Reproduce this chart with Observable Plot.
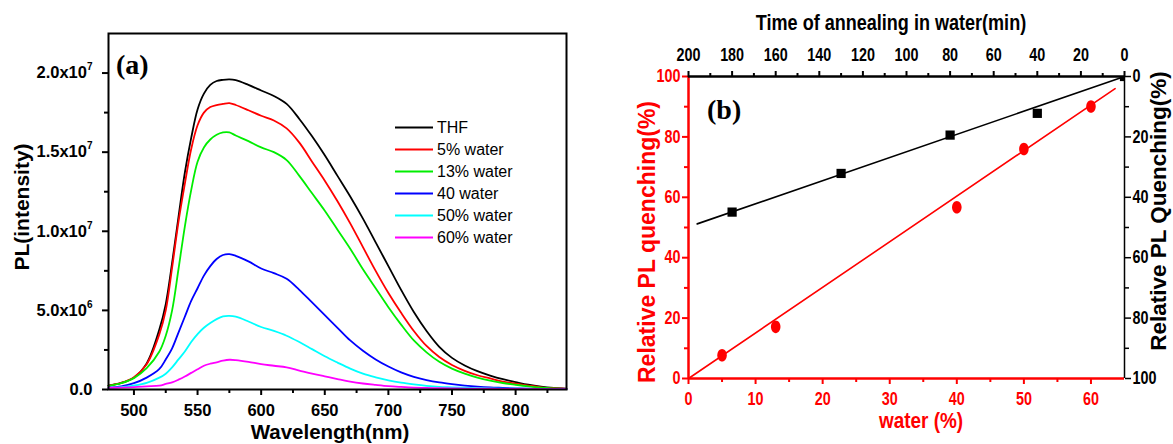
<!DOCTYPE html>
<html><head><meta charset="utf-8">
<script src="https://cdn.jsdelivr.net/npm/d3@7"></script>
<script src="https://cdn.jsdelivr.net/npm/@observablehq/plot@0.6"></script>
<style>
body{margin:0;background:#fff;}
#root{position:relative;width:1173px;height:444px;overflow:hidden;background:#fff;}
.layer{position:absolute;top:0;}
</style></head>
<body><div id="root">
<div id="pa" class="layer" style="left:0;width:580px;height:444px"></div>
<div id="pb1" class="layer" style="left:580px;width:593px;height:444px"></div>
<div id="pb2" class="layer" style="left:580px;width:593px;height:444px"></div>
<svg id="ov" class="layer" style="left:0" width="1173" height="444"></svg>
</div>
<script>
// ---------- Panel (a) data (intensity in units of 1e6) ----------
const wavelength = [480,490,500,510,520,525,530,535,540,545,550,555,560,565,570,575,580,590,600,610,620,630,640,650,660,670,680,690,700,710,720,730,740,750,760,770,780,790,800,810,820,830,840];
const thf      = [0.25,0.42,0.75,1.65,3.8,5.4,8.0,10.9,13.7,15.9,17.7,18.7,19.25,19.5,19.57,19.6,19.55,19.25,18.9,18.55,18.05,17.1,16.0,14.8,13.5,12.2,10.8,9.3,7.8,6.3,4.9,3.7,2.7,2.0,1.52,1.16,0.88,0.65,0.47,0.3,0.18,0.1,0.05];
const water5   = [0.25,0.42,0.78,1.6,3.5,5.0,7.7,10.6,13.0,15.2,16.7,17.5,17.85,17.98,18.05,18.1,17.98,17.65,17.3,17.0,16.5,15.6,14.4,13.2,11.9,10.5,9.0,7.5,6.1,4.85,3.7,2.75,2.05,1.55,1.18,0.9,0.7,0.5,0.37,0.25,0.14,0.08,0.04];
const water13  = [0.23,0.4,0.72,1.35,2.4,3.4,5.0,7.6,10.3,12.6,14.4,15.3,15.8,16.1,16.25,16.25,16.05,15.7,15.3,15.0,14.5,13.5,12.4,11.3,10.1,8.9,7.6,6.4,5.2,4.1,3.1,2.35,1.75,1.32,1.0,0.75,0.56,0.41,0.3,0.2,0.12,0.07,0.03];
const water40  = [0.12,0.2,0.4,0.75,1.3,1.9,2.6,3.6,4.6,5.6,6.4,7.2,7.8,8.25,8.5,8.55,8.45,8.1,7.65,7.35,7.0,6.3,5.5,4.7,3.9,3.1,2.45,1.9,1.45,1.08,0.8,0.6,0.45,0.34,0.25,0.18,0.13,0.1,0.07,0.05,0.04,0.03,0.02];
const water50  = [0.1,0.15,0.25,0.42,0.75,1.0,1.4,1.9,2.4,3.0,3.5,3.9,4.2,4.45,4.62,4.65,4.6,4.3,3.95,3.7,3.4,3.0,2.55,2.1,1.7,1.32,1.0,0.77,0.58,0.43,0.32,0.23,0.17,0.14,0.11,0.09,0.07,0.06,0.05,0.04,0.03,0.02,0.02];
const water60  = [0.1,0.12,0.15,0.2,0.25,0.35,0.45,0.62,0.82,1.05,1.28,1.5,1.63,1.72,1.82,1.88,1.86,1.75,1.6,1.5,1.4,1.2,1.0,0.83,0.66,0.5,0.38,0.29,0.21,0.16,0.12,0.1,0.08,0.07,0.06,0.05,0.05,0.04,0.04,0.03,0.03,0.02,0.02];
const seriesNames  = ["THF","5% water","13% water","40 water","50% water","60% water"];
const seriesColors = ["#000000","#ff0000","#00ee00","#0000ff","#00ffff","#ff00ff"];
const seriesValues = [thf, water5, water13, water40, water50, water60];
const unitA = 1e6;
const aXTicks = [500,550,600,650,700,750,800];
const aXMinor = [525,575,625,675,725,775,825];
const aYTicks = [0,5e6,1e7,1.5e7,2e7];
const aYLabels = ["0.0","5.0x10^6","1.0x10^7","1.5x10^7","2.0x10^7"];
const aYMinor = [2.5e6,7.5e6,1.25e7,1.75e7];
const aXDomain = [480,840], aYDomain = [0,2.25e7];

// ---------- Panel (b) data ----------
const waterPct      = [5, 13, 40, 50, 60];
const relQuench     = [7.7, 17.1, 56.7, 76.0, 90.1];
const redFitWater   = [0, 63.6];
const redFitValue   = [0, 96.0];
const annealTime    = [180, 130, 80, 40, 0];
const relQuenchTime = [44.9, 32.1, 19.4, 12.2, 0];
const blackFitTime  = [196, 0];
const blackFitValue = [48.8, 0];
const bWaterDomain = [0,65], bLeftDomain = [0,100];
const bTimeDomain = [200,0], bRightDomain = [100,0];
const bWaterTicks = [0,10,20,30,40,50,60], bWaterMinor = [5,15,25,35,45,55];
const bLeftTicks = [0,20,40,60,80,100], bLeftMinor = [10,30,50,70,90];
const bTimeTicks = [200,180,160,140,120,100,80,60,40,20,0], bTimeMinor = [190,170,150,130,110,90,70,50,30,10];
const bRightTicks = [0,20,40,60,80,100], bRightMinor = [10,30,50,70,90];

const RED = "#ff0000";
const SANS = "'Liberation Sans', Arial, sans-serif";
const NARROW_FACTOR = 0.82;

// condense text horizontally (Arial-Narrow look) while keeping it real text
function condense(node, f) {
  d3.select(node).selectAll("text").each(function() {
    const w = this.getComputedTextLength();
    if (w > 0) d3.select(this).attr("textLength", w * f).attr("lengthAdjust", "spacingAndGlyphs");
  });
}

// ---------- Panel (a) ----------
const tableA = [];
seriesValues.forEach((vals, s) => vals.forEach((v, i) => tableA.push({wl: wavelength[i], v: v * unitA, s: seriesNames[s]})));

const plotA = Plot.plot({
  width: 580, height: 444,
  marginLeft: 108, marginRight: 14, marginTop: 33, marginBottom: 55,
  x: {domain: aXDomain},
  y: {domain: aYDomain},
  color: {domain: seriesNames, range: seriesColors},
  style: {fontFamily: SANS, fontSize: "16.5px", fontWeight: "bold", color: "black", background: "transparent", overflow: "visible"},
  marks: [
    Plot.line(tableA, {x: "wl", y: "v", z: "s", stroke: "s", strokeWidth: 1.8, curve: "catmull-rom"}),
    Plot.frame({stroke: "black", strokeWidth: 2}),
    Plot.axisX(aXTicks, {tickSize: 6, tickPadding: 9, strokeWidth: 2, tickFormat: d => String(d), label: null}),
    Plot.axisX(aXMinor, {tickSize: 4, strokeWidth: 2, tickFormat: () => "", label: null}),
    Plot.axisY(aYTicks, {tickSize: 6, tickPadding: 10, strokeWidth: 2, tickFormat: d => aYLabels[aYTicks.indexOf(d)], label: null}),
    Plot.axisY(aYMinor, {tickSize: 4, strokeWidth: 2, tickFormat: () => "", label: null})
  ]
});
document.getElementById("pa").appendChild(plotA);
d3.select(plotA).selectAll("text").each(function() {
  const t = this.textContent, i = t.indexOf("^");
  if (i >= 0) {
    const sel = d3.select(this);
    sel.text(t.slice(0, i));
    sel.append("tspan").attr("dy", -8).attr("font-size", 10).text(t.slice(i + 1));
  }
});

// ---------- Panel (b): red layer (water %, left axis) ----------
const ellipse = {
  draw(ctx, size) {
    const r = Math.sqrt(size / Math.PI), rx = r * 0.85, ry = r * 1.12, k = 0.5523;
    ctx.moveTo(rx, 0);
    ctx.bezierCurveTo(rx, ry * k, rx * k, ry, 0, ry);
    ctx.bezierCurveTo(-rx * k, ry, -rx, ry * k, -rx, 0);
    ctx.bezierCurveTo(-rx, -ry * k, -rx * k, -ry, 0, -ry);
    ctx.bezierCurveTo(rx * k, -ry, rx, -ry * k, rx, 0);
    ctx.closePath();
  }
};
const redPts = waterPct.map((w, i) => ({x: w, y: relQuench[i]}));
const redFit = redFitWater.map((w, i) => ({x: w, y: redFitValue[i]}));
const plotB1 = Plot.plot({
  width: 593, height: 444,
  marginLeft: 108, marginRight: 49, marginTop: 76, marginBottom: 66,
  x: {domain: bWaterDomain},
  y: {domain: bLeftDomain},
  style: {fontFamily: SANS, fontSize: "17.5px", fontWeight: "bold", color: RED, background: "transparent", overflow: "visible"},
  marks: [
    Plot.ruleX([bWaterDomain[0]], {stroke: RED, strokeWidth: 2.5}),
    Plot.ruleY([bLeftDomain[0]], {stroke: RED, strokeWidth: 2.5}),
    Plot.axisX(bWaterTicks, {color: RED, tickSize: 6, tickPadding: 8, strokeWidth: 2, tickFormat: d => String(d), label: null}),
    Plot.axisX(bWaterMinor, {color: RED, tickSize: 4, strokeWidth: 2, tickFormat: () => "", label: null}),
    Plot.axisY(bLeftTicks, {color: RED, tickSize: 6, tickPadding: 2, strokeWidth: 2, tickFormat: d => String(d), label: null}),
    Plot.axisY(bLeftMinor, {color: RED, tickSize: 4, strokeWidth: 2, tickFormat: () => "", label: null}),
    Plot.line(redFit, {x: "x", y: "y", stroke: RED, strokeWidth: 1.6}),
    Plot.dot(redPts, {x: "x", y: "y", r: 5.6, symbol: ellipse, fill: RED, stroke: "none"})
  ]
});
document.getElementById("pb1").appendChild(plotB1);
condense(plotB1, NARROW_FACTOR);

// ---------- Panel (b): black layer (time, right axis) ----------
const blackPts = annealTime.map((t, i) => ({x: t, y: relQuenchTime[i]}));
const blackFit = blackFitTime.map((t, i) => ({x: t, y: blackFitValue[i]}));
const plotB2 = Plot.plot({
  width: 593, height: 444,
  marginLeft: 108, marginRight: 49, marginTop: 76, marginBottom: 66,
  x: {domain: bTimeDomain},
  y: {domain: bRightDomain},
  style: {fontFamily: SANS, fontSize: "17.5px", fontWeight: "bold", color: "black", background: "transparent", overflow: "visible"},
  marks: [
    Plot.ruleY([bRightDomain[1]], {stroke: "black", strokeWidth: 2.5}),
    Plot.ruleX([bTimeDomain[1]], {stroke: "black", strokeWidth: 1.5}),
    Plot.axisX(bTimeTicks, {anchor: "top", tickSize: 6, tickPadding: 10, strokeWidth: 2, tickFormat: d => String(d), label: null}),
    Plot.axisX(bTimeMinor, {anchor: "top", tickSize: 4, strokeWidth: 2, tickFormat: () => "", label: null}),
    Plot.axisY(bRightTicks, {anchor: "right", tickSize: 6, tickPadding: 2, strokeWidth: 1.5, tickFormat: d => String(d), label: null}),
    Plot.axisY(bRightMinor, {anchor: "right", tickSize: 4, strokeWidth: 1.5, tickFormat: () => "", label: null}),
    Plot.line(blackFit, {x: "x", y: "y", stroke: "black", strokeWidth: 1.6}),
    Plot.dot(blackPts, {x: "x", y: "y", r: 5.2, symbol: "square", fill: "black", stroke: "none", clip: true})
  ]
});
document.getElementById("pb2").appendChild(plotB2);
condense(plotB2, NARROW_FACTOR);

// ---------- Titles, labels and legend ----------
const ov = d3.select("#ov");
function label(txt, x, y, o = {}) {
  const t = ov.append("text").attr("font-family", o.family || SANS).attr("font-weight", "bold")
    .attr("font-size", o.size || 21).attr("fill", o.fill || "black")
    .attr("text-anchor", o.anchor || "middle")
    .attr("transform", `translate(${x},${y})` + (o.rot ? " rotate(-90)" : ""))
    .text(txt);
  if (o.narrow) {
    const w = t.node().getComputedTextLength();
    t.attr("textLength", w * o.narrow).attr("lengthAdjust", "spacingAndGlyphs");
  }
  return t;
}
const SERIF = "'Liberation Serif', 'Times New Roman', serif";
label("(a)", 116, 74, {family: SERIF, size: 28, anchor: "start"});
label("(b)", 707, 119, {family: SERIF, size: 28, anchor: "start"});
label("PL(intensity)", 29, 207, {size: 21, rot: true});
label("Wavelength(nm)", 330, 439, {size: 20.5});
label("Time of annealing in water(min)", 891, 30, {size: 22, narrow: 0.82});
label("water (%)", 921, 428, {size: 22, fill: RED, narrow: 0.86});
label("Relative PL quenching(%)", 655, 242, {size: 23, rot: true, fill: RED});
label("Relative PL Quenching(%)", 1166, 211, {size: 22.5, rot: true});

// legend
const lg = ov.append("g");
seriesNames.forEach((name, i) => {
  const cy = 127.5 + i * 22;
  lg.append("line").attr("x1", 395).attr("x2", 433).attr("y1", cy).attr("y2", cy)
    .attr("stroke", seriesColors[i]).attr("stroke-width", 2);
  lg.append("text").attr("x", 437).attr("y", cy + 5.8).attr("font-family", SANS)
    .attr("font-size", 16).attr("fill", "black").text(name);
});
</script></body></html>
